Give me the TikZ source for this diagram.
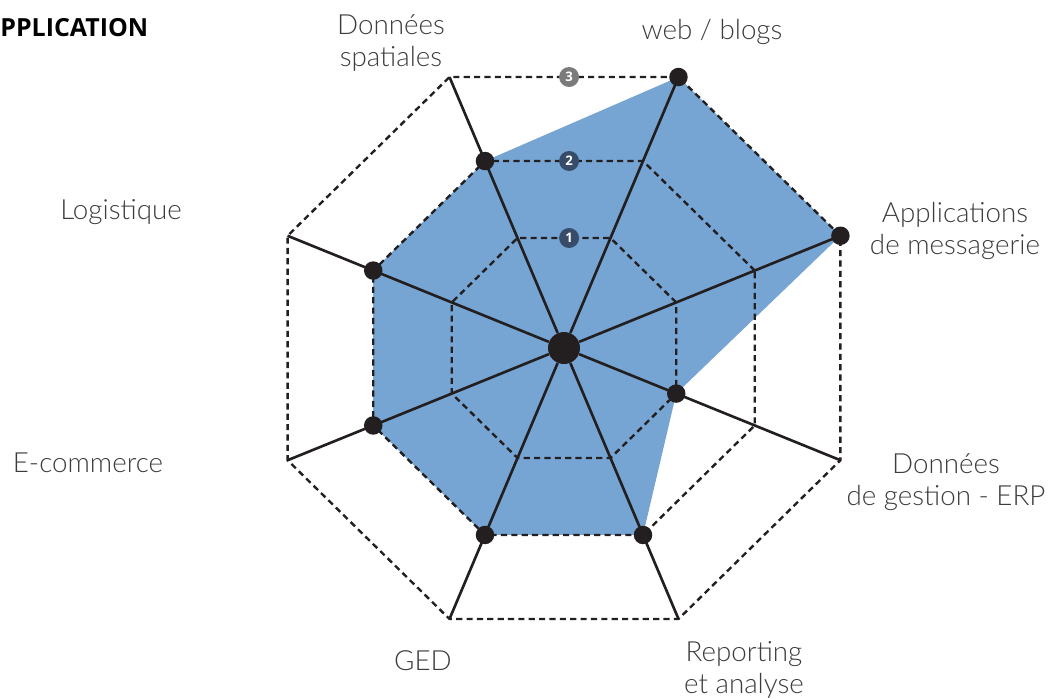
\documentclass[tikz,border=0pt]{standalone}
\usepackage{fontspec}
\IfFontExistsTF{Lato Light}{\setmainfont{Lato Light}}{\setmainfont{Lato}}
\newfontfamily\titlefont{Open Sans}
\definecolor{chartblue}{RGB}{118,165,211}
\definecolor{inkblack}{RGB}{35,31,32}
\definecolor{labelgrey}{RGB}{60,60,60}
\definecolor{levelgrey}{RGB}{123,123,123}
\definecolor{levelnavy}{RGB}{55,76,104}
\tikzset{
  spoke/.style={draw=inkblack,line width=1.5pt},
  ring/.style={draw=inkblack,line width=1.35pt,dash pattern=on 3.5pt off 2.4pt},
  dot/.style={circle,fill=inkblack,inner sep=0pt,minimum size=0.37cm},
  hubdot/.style={circle,fill=inkblack,inner sep=0pt,minimum size=0.64cm},
  levelmark/.style={circle,inner sep=0pt,minimum size=0.4cm,text=white,font=\titlefont\bfseries\fontsize{7.5}{7.5}\selectfont},
  axislabel/.style={align=center,text=labelgrey,inner sep=0pt,font=\fontsize{15.8}{17.8}\selectfont}
}
\begin{document}
\begin{tikzpicture}[x=0.02cm,y=0.02cm]
\useasboundingbox (-564,-350) rectangle (484,348);
\begin{scope}[xscale=1.02]
% axes: end of each spoke and the plotted value
\foreach \i/\a/\v in {1/22.5/293.3,2/67.5/293.3,3/112.5/202.4,4/157.5/202.4,
                      5/202.5/202.4,6/247.5/202.4,7/292.5/202.4,8/337.5/119.1}{
  \coordinate (o\i) at (\a:293.3);
  \coordinate (p\i) at (\a:\v);
}
\fill[chartblue] (p1) \foreach \i in {2,...,8}{-- (p\i)} -- cycle;
% level rings
\foreach \r in {119.1,202.4,293.3}
  \draw[ring] (22.5:\r) \foreach \a in {67.5,112.5,...,337.5}{-- (\a:\r)} -- cycle;
\node[hubdot] (hub) at (0,0) {};
\foreach \i in {1,...,8}
  \draw[spoke] (hub) -- (o\i);
\foreach \i in {1,...,8}
  \node[dot] (d\i) at (p\i) {};
\node[levelmark,fill=levelnavy] (lev1) at (5,110) {1};
\node[levelmark,fill=levelnavy] (lev2) at (5,187) {2};
\node[levelmark,fill=levelgrey] (lev3) at (5,271) {3};
\end{scope}
% labels
\node[anchor=west,inner sep=0pt,font=\titlefont\bfseries\fontsize{14.2}{14.2}\selectfont] (title) at (-564,320) {PPLICATION};
\node[axislabel] (spatial) at (-173,305) {Données\\spatiales};
\node[axislabel] (web) at (148,316) {web / blogs};
\node[axislabel] (mail) at (391,117) {Applications\\de messagerie};
\node[axislabel] (erp) at (382,-134) {Données\\de gestion - ERP};
\node[axislabel] (report) at (180,-322) {Reporting\\et analyse};
\node[axislabel] (ged) at (-141,-313) {GED};
\node[axislabel] (ecom) at (-476,-115) {E-commerce};
\node[axislabel] (logi) at (-443,136) {Logistique};
\end{tikzpicture}
\end{document}
